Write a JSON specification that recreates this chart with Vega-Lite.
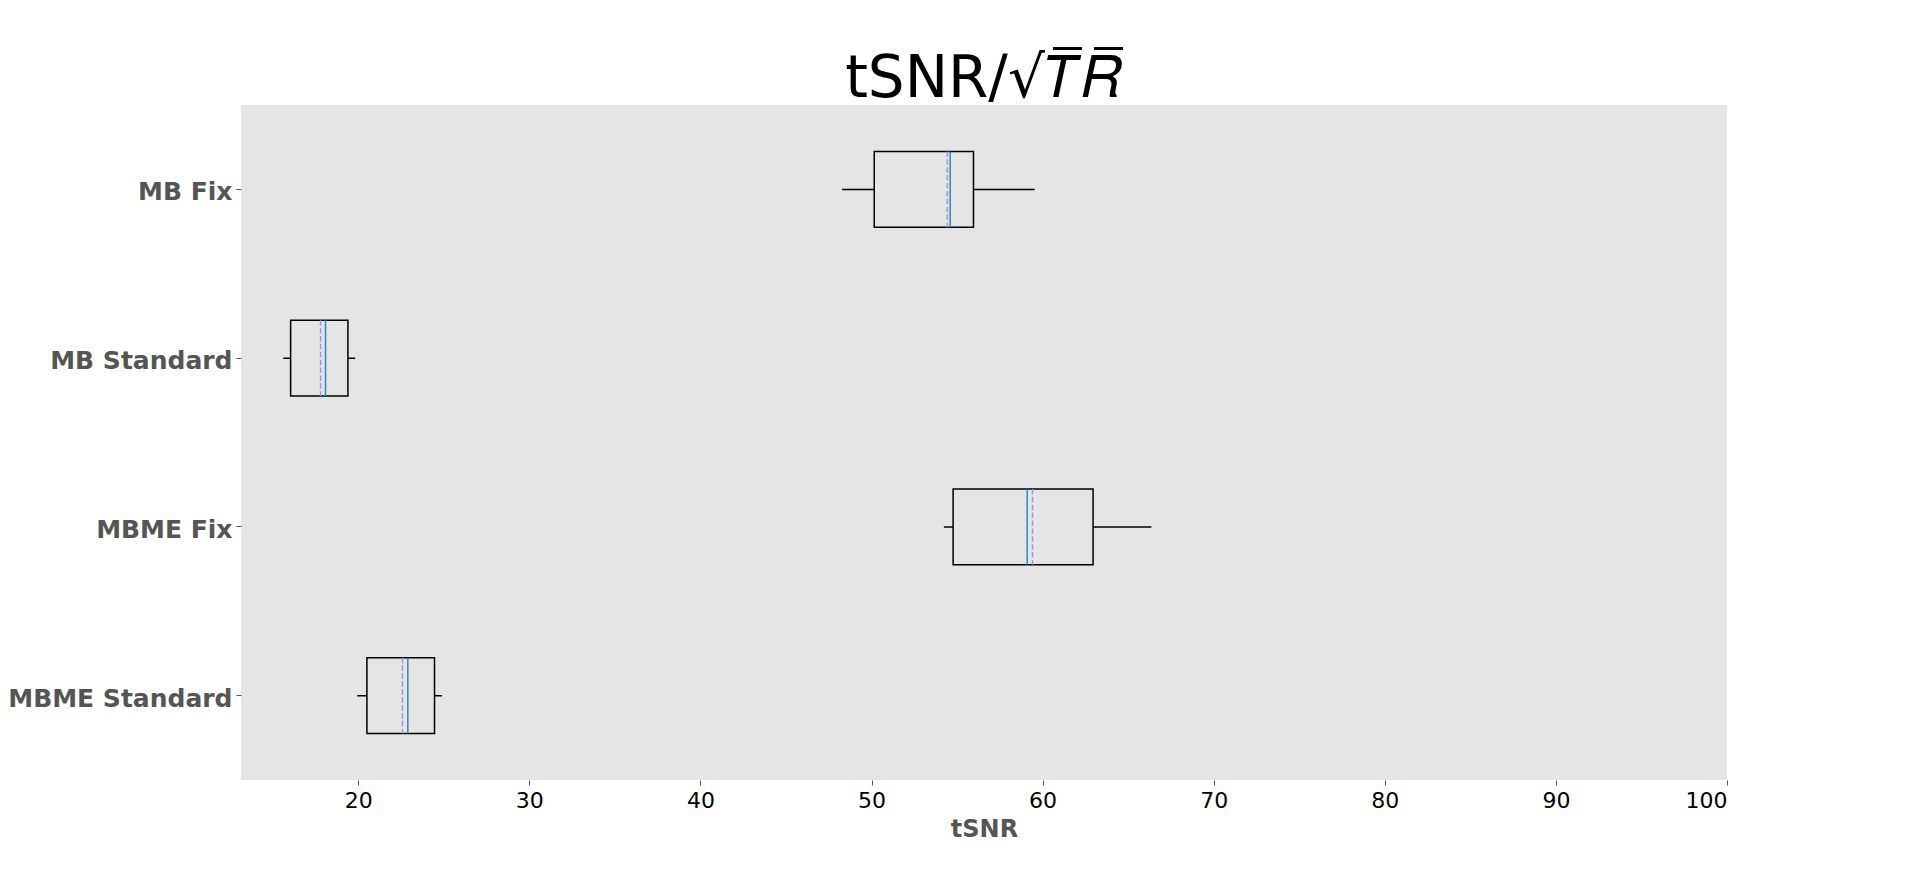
{
  "$schema": "https://vega.github.io/schema/vega-lite/v6.json",
  "autosize": {"type": "none"},
  "width": 1486,
  "height": 675,
  "padding": {"left": 241, "top": 105, "right": 193, "bottom": 98},
  "background": "white",
  "title": {
    "text": "tSNR/√𝑇̅𝑅̅",
    "font": "DejaVu Sans",
    "fontSize": 58,
    "fontWeight": "normal",
    "color": "black",
    "anchor": "middle",
    "offset": -4
  },
  "data": {
    "values": [
      {"group": "MB Fix", "wlo": 48.27, "q1": 50.16, "median": 54.6, "mean": 54.43, "q3": 55.96, "whi": 59.54},
      {"group": "MB Standard", "wlo": 15.62, "q1": 16.05, "median": 18.09, "mean": 17.8, "q3": 19.4, "whi": 19.82},
      {"group": "MBME Fix", "wlo": 54.23, "q1": 54.77, "median": 59.1, "mean": 59.41, "q3": 62.95, "whi": 66.36},
      {"group": "MBME Standard", "wlo": 19.94, "q1": 20.51, "median": 22.9, "mean": 22.59, "q3": 24.46, "whi": 24.89}
    ]
  },
  "config": {
    "view": {"fill": "#e5e5e5", "stroke": null},
    "axis": {"grid": false, "domain": false}
  },
  "encoding": {
    "y": {
      "field": "group",
      "type": "nominal",
      "sort": ["MB Fix", "MB Standard", "MBME Fix", "MBME Standard"],
      "scale": {"paddingInner": 0.55, "paddingOuter": 0.275},
      "axis": {
        "title": null,
        "labelFont": "DejaVu Sans",
        "labelFontSize": 25,
        "labelFontWeight": "bold",
        "labelColor": "#555555",
        "labelLimit": 400,
        "labelOffset": 3,
        "tickColor": "#555555",
        "tickSize": 5,
        "labelPadding": 4
      }
    }
  },
  "layer": [
    {
      "mark": {"type": "rule", "color": "black", "strokeWidth": 1.5},
      "encoding": {
        "x": {
          "field": "wlo",
          "type": "quantitative",
          "scale": {"domain": [13.15, 100], "nice": false, "zero": false},
          "axis": {
            "title": "tSNR",
            "values": [20, 30, 40, 50, 60, 70, 80, 90, 100],
            "titleFont": "DejaVu Sans",
            "titleFontSize": 24,
            "titleFontWeight": "bold",
            "titleColor": "#555555",
            "titlePadding": 6,
            "labelFont": "DejaVu Sans",
            "labelFontSize": 22,
            "labelColor": "black",
            "tickColor": "#555555",
            "tickSize": 5,
            "labelPadding": 5
          }
        },
        "x2": {"field": "whi"}
      }
    },
    {
      "mark": {"type": "bar", "fill": "#e5e5e5", "stroke": "black", "strokeWidth": 1.5},
      "encoding": {
        "x": {"field": "q1", "type": "quantitative"},
        "x2": {"field": "q3"}
      }
    },
    {
      "mark": {"type": "rule", "color": "#a093e0", "strokeWidth": 1.5, "strokeDash": [5.5, 2.4]},
      "encoding": {
        "x": {"field": "mean", "type": "quantitative"},
        "y": {"field": "group", "type": "nominal", "sort": ["MB Fix", "MB Standard", "MBME Fix", "MBME Standard"], "bandPosition": 0},
        "y2": {"field": "group", "bandPosition": 1}
      }
    },
    {
      "mark": {"type": "rule", "color": "#2a88cc", "strokeWidth": 1.5},
      "encoding": {
        "x": {"field": "median", "type": "quantitative"},
        "y": {"field": "group", "type": "nominal", "sort": ["MB Fix", "MB Standard", "MBME Fix", "MBME Standard"], "bandPosition": 0},
        "y2": {"field": "group", "bandPosition": 1}
      }
    }
  ]
}
